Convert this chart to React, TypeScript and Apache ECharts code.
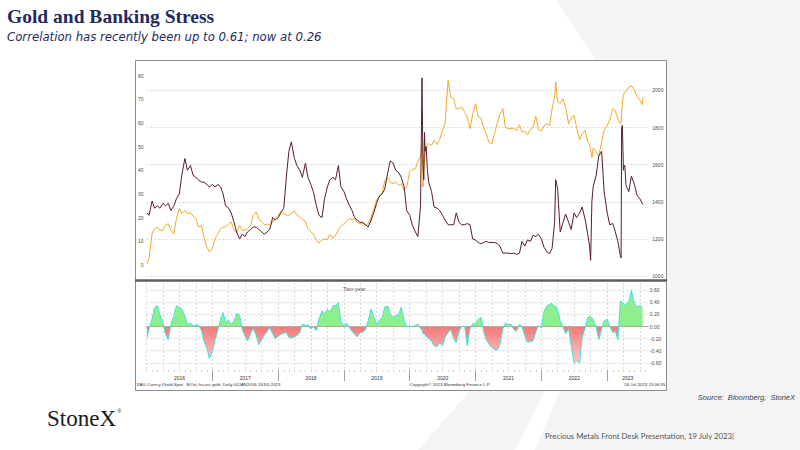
import React, { useEffect, useRef } from "react";
import * as echarts from "echarts";

// ---- dates (semi-monthly, plus extra days around sharp moves) ----
const SM = ["01-01","01-15","02-01","02-15","03-01","03-15","04-01","04-15","05-01","05-15","06-01","06-15","07-01","07-15","08-01","08-15","09-01","09-15","10-01","10-15","11-01","11-15","12-01","12-15"];
const D2016 = ["01-04", ...SM.slice(1)];
const D2020 = ["01-01","01-15","02-01","02-15","03-01","03-05","03-09","03-12","03-15","03-19","03-23","03-26","04-01","04-08","04-15","05-01","05-15","06-01","06-15","07-01","07-15","08-01","08-15","09-01","09-15","10-01","10-15","11-01","11-15","12-01","12-15"];
const D2022 = ["01-01","01-15","02-01","02-15","03-01","03-15","03-21","04-01","04-15","05-01","05-15","06-01","06-15","07-01","07-15","08-01","08-15","09-01","09-15","09-25","10-01","10-08","10-15","11-01","11-15","12-01","12-15"];
const D2023 = ["01-01","01-15","02-01","02-15","03-01","03-15","03-19","03-22","03-26","04-01","04-05","04-09","04-15","05-01","05-15","06-01","06-15","07-01","07-15","07-18"];

const dates = [
  ...D2016.map((d) => "2016-" + d),
  ...SM.map((d) => "2017-" + d),
  ...SM.map((d) => "2018-" + d),
  ...SM.map((d) => "2019-" + d),
  ...D2020.map((d) => "2020-" + d),
  ...SM.map((d) => "2021-" + d),
  ...D2022.map((d) => "2022-" + d),
  ...D2023.map((d) => "2023-" + d),
];

// Gold spot $/oz (right axis)
const goldSpot = [
  1068, 1095, 1230, 1256, 1265, 1247, 1247, 1274, 1283, 1247, 1229, 1310, 1364, 1337, 1355, 1337, 1342, 1324, 1310, 1265, 1274, 1211, 1158, 1131,
  1149, 1202, 1229, 1256, 1265, 1265, 1283, 1292, 1247, 1238, 1274, 1247, 1247, 1256, 1274, 1328, 1346, 1310, 1292, 1278, 1280, 1278, 1290, 1312,
  1328, 1350, 1335, 1330, 1328, 1337, 1352, 1330, 1320, 1305, 1295, 1256, 1240, 1225, 1195, 1178, 1196, 1200, 1198, 1225, 1205, 1222, 1250, 1268,
  1283, 1295, 1310, 1305, 1310, 1290, 1282, 1285, 1274, 1282, 1320, 1360, 1410, 1425, 1450, 1515, 1530, 1505, 1498, 1507, 1489, 1498, 1462, 1480,
  1561, 1575, 1579, 1615, 1650, 1668, 1722, 1615, 1480, 1560, 1633, 1650, 1668, 1713, 1713, 1704, 1731, 1708, 1736, 1785, 1821, 2054, 1964, 1955, 1901, 1901, 1910, 1883, 1857, 1794, 1869,
  1928, 1857, 1848, 1794, 1767, 1722, 1713, 1767, 1821, 1869, 1901, 1800, 1794, 1794, 1797, 1785, 1815, 1776, 1780, 1760, 1790, 1800, 1860, 1790,
  1780, 1810, 1820, 1810, 1900, 1964, 2045, 1937, 1930, 1955, 1910, 1820, 1850, 1866, 1800, 1735, 1767, 1785, 1722, 1710, 1680, 1640, 1690, 1672, 1648, 1720, 1785,
  1812, 1840, 1901, 1890, 1848, 1821, 1826, 1883, 1937, 1973, 1985, 1991, 1995, 2016, 2025, 2000, 1969, 1946, 1923, 1960,
];

// Banking stress measure (left axis)
const bankStress = [
  22, 21, 27, 24, 25, 24, 26, 25, 26, 23, 25, 28, 30, 38, 45, 40, 42, 38, 37, 36, 35, 35, 34, 33,
  34, 33, 34, 33, 30, 25, 24, 22, 18, 14, 11, 13, 12, 14, 15, 16, 16, 15, 14, 13, 14, 15, 20, 19,
  20, 22, 24, 37, 48, 52, 45, 42, 40, 37, 43, 37, 34, 31, 25, 21, 20, 28, 33, 36, 37, 36, 42, 33,
  31, 28, 25, 23, 20, 19, 18, 18, 17, 16, 19, 22, 26, 29, 30, 32, 39, 44, 43, 40, 39, 37, 33, 23,
  21, 17, 14, 12, 25, 52, 79, 58, 42, 36, 56, 48, 50, 40, 35, 31, 24.5, 24, 23, 21, 19, 17, 17, 17, 22, 18, 17, 17, 17.5, 17, 11,
  10.5, 9.5, 9, 9.5, 10, 9.5, 9.5, 9.5, 9, 8, 5, 5, 5, 4.8, 5, 4.5, 5, 10, 8, 10.5, 10, 12.5, 12, 13,
  11, 7.5, 5.5, 4.8, 7, 18, 36, 32, 14, 18, 21.5, 18, 15, 22, 20, 22, 24.5, 19, 13, 8, 2, 27, 33, 38, 46, 48, 31,
  22, 17, 17.5, 14, 10, 4, 3, 58, 59, 40, 42, 42, 33.6, 31, 37.5, 34, 29.5, 28, 25.9, 25.5,
];

// Two-year correlation (lower panel)
const correlation = [
  -0.18, -0.05, 0.13, 0.31, 0.35, 0.2, 0.07, -0.12, -0.22, 0.03, 0.18, 0.34, 0.32, 0.29, 0.18, 0.03, 0.06, 0.01, 0.02, 0.03, -0.07, -0.24, -0.36, -0.53,
  -0.42, -0.23, -0.05, 0.12, 0.23, 0.08, 0.1, 0.04, 0.08, 0.22, 0.18, -0.05, -0.16, -0.24, -0.12, -0.03, -0.15, -0.3, -0.22, -0.15, -0.08, -0.02, -0.12, -0.2,
  -0.16, -0.13, -0.11, -0.1, -0.18, -0.19, -0.17, -0.15, -0.1, 0.04, 0.02, 0.03, -0.04, 0.0, -0.07, 0.12, 0.26, 0.21, 0.28, 0.24, 0.34, 0.35, 0.4, 0.08,
  0.0, 0.06, -0.02, -0.08, -0.13, -0.17, -0.1, -0.1, -0.05, 0.1, 0.29, 0.16, 0.04, 0.1, 0.15, 0.32, 0.34, 0.2, 0.15, 0.18, 0.2, 0.32, 0.1, -0.01,
  0.01, -0.01, 0.02, 0.04, -0.04, -0.02, -0.06, -0.1, -0.12, -0.12, -0.13, -0.14, -0.16, -0.18, -0.2, -0.24, -0.32, -0.33, -0.27, -0.32, -0.18, -0.1, -0.05, -0.2, -0.27, -0.08, 0.0, 0.0, -0.32, -0.03, 0.04,
  0.05, 0.12, 0.15, -0.1, -0.22, -0.29, -0.35, -0.38, -0.39, -0.3, -0.04, 0.06, 0.03, 0.04, -0.05, -0.08, 0.04, 0.0, -0.16, -0.26, -0.25, -0.24, -0.09, 0.01,
  -0.02, 0.25, 0.34, 0.37, 0.38, 0.33, 0.34, 0.26, 0.1, -0.01, -0.12, -0.04, -0.32, -0.6, -0.57, -0.6, -0.18, -0.02, 0.15, 0.17, 0.16, 0.14, 0.11, -0.02, -0.22, -0.04, 0.09,
  0.12, 0.0, -0.1, -0.08, -0.22, 0.42, 0.42, 0.41, 0.4, 0.38, 0.37, 0.37, 0.37, 0.4, 0.6, 0.37, 0.33, 0.34, 0.33, 0.33,
];

// tick labels
const leftTicks = [0, 10, 20, 30, 40, 50, 60, 70, 80];
const rightTicks = [1000, 1200, 1400, 1600, 1800, 2000];
const corrTicks = [-0.6, -0.4, -0.2, 0, 0.2, 0.4, 0.6];
const years = [2016, 2017, 2018, 2019, 2020, 2021, 2022, 2023];

const SANS = "'Liberation Sans', Arial, sans-serif";

function toTime(s: string) {
  const [y, m, d] = s.split("-").map(Number);
  return +new Date(y, m - 1, d);
}

function buildOption() {
  const xMin = +new Date(2016, 0, 1);
  const xMax = +new Date(2023, 7, 17);
  const quarters: number[] = [];
  const months: number[] = [];
  years.forEach((y) => {
    for (let m = 0; m < 12; m++) {
      const t = +new Date(y, m, 1);
      if (t <= xMax) {
        months.push(t);
        if (m % 3 === 0) quarters.push(t);
      }
    }
  });
  const yearStarts = years.slice(1).map((y) => +new Date(y, 0, 1));
  const yearMids = years.map((y) => {
    const a = Math.max(+new Date(y, 0, 1), xMin);
    const b = Math.min(+new Date(y + 1, 0, 1), xMax);
    return (a + b) / 2;
  });

  const times = dates.map(toTime);
  const pairs = (vals: number[]) => times.map((t, i) => [t, vals[i]]);

  const baseX = {
    type: "value",
    min: xMin,
    max: xMax,
    axisLine: { show: false },
    axisTick: { show: false },
    axisLabel: { show: false },
    splitLine: { show: false },
  };
  const dash = { color: "#c9c9c9", width: 0.7, type: [2, 2] };
  const lbl = { fontSize: 5, color: "#4a4a4a", fontFamily: SANS };

  const redGrad = new echarts.graphic.LinearGradient(
    0, 326.5, 0, 366,
    [
      { offset: 0, color: "#f37a7a" },
      { offset: 1, color: "#fcd0d0" },
    ],
    true
  );

  const txt = (x: number, y: number, text: string, font: string, fill: string, align = "left") => ({
    type: "text",
    x,
    y,
    z: 20,
    silent: true,
    style: { text, font, fill, align, verticalAlign: "middle" },
  });

  return {
    animation: false,
    backgroundColor: "#ffffff",
    grid: [
      { left: 146.5, right: 151.7, top: 63, height: 217, outerBoundsMode: "none" },
      { left: 146.5, right: 151.7, top: 283, height: 87, outerBoundsMode: "none" },
      { left: 146.5, right: 151.7, top: 283, height: 43.5, outerBoundsMode: "none" },
      { left: 146.5, right: 151.7, top: 326.5, height: 43.5, outerBoundsMode: "none" },
    ],
    xAxis: [
      { ...baseX, gridIndex: 0 },
      {
        ...baseX,
        gridIndex: 1,
        position: "bottom",
        axisLine: { show: true, lineStyle: { color: "#9a9a9a", width: 0.8 } },
        axisTick: { show: false, customValues: quarters },
        splitLine: { show: true, lineStyle: dash },
      },
      {
        ...baseX,
        gridIndex: 1,
        position: "bottom",
        axisTick: { show: true, customValues: yearStarts, length: 11, lineStyle: { color: "#8a8a8a", width: 0.8 } },
        axisLabel: {
          show: true,
          customValues: yearMids,
          formatter: (v: number) => String(new Date(v).getFullYear()),
          margin: 5,
          ...lbl,
          color: "#333",
        },
      },
      {
        ...baseX,
        gridIndex: 1,
        position: "bottom",
        axisTick: { show: true, customValues: months, length: 2, lineStyle: { color: "#9a9a9a", width: 0.5 } },
      },
      { ...baseX, gridIndex: 2 },
      { ...baseX, gridIndex: 3 },
    ],
    yAxis: [
      {
        type: "value",
        gridIndex: 0,
        position: "left",
        min: -6.34,
        max: 85.3,
        axisLine: { show: false },
        axisTick: { show: false, customValues: leftTicks },
        splitLine: { show: false },
        axisLabel: { customValues: leftTicks, margin: 3, formatter: (v: number) => String(v), ...lbl },
      },
      {
        type: "value",
        gridIndex: 0,
        position: "right",
        min: 980,
        max: 2147,
        axisLine: { show: false },
        axisTick: { show: false, customValues: rightTicks },
        splitLine: { show: true, lineStyle: dash },
        axisLabel: { customValues: rightTicks, margin: 4, formatter: (v: number) => String(v), ...lbl },
      },
      {
        type: "value",
        gridIndex: 1,
        position: "right",
        min: -0.72,
        max: 0.72,
        axisLine: { show: false },
        axisTick: { show: false, customValues: corrTicks },
        splitLine: { show: true, lineStyle: dash },
        axisLabel: {
          customValues: corrTicks,
          margin: 1.5,
          formatter: (v: number) => (Math.abs(v) < 1e-9 ? "0.00" : v.toFixed(2)),
          ...lbl,
        },
      },
      { type: "value", gridIndex: 2, min: 0, max: 0.72, show: false },
      { type: "value", gridIndex: 3, min: -0.72, max: 0, show: false },
    ],
    series: [
      {
        type: "line",
        name: "Gold",
        xAxisIndex: 0,
        yAxisIndex: 1,
        data: pairs(goldSpot),
        symbol: "none",
        showSymbol: false,
        silent: true,
        lineStyle: { color: "#f4a828", width: 1 },
        z: 2,
      },
      {
        type: "line",
        name: "Banking stress",
        xAxisIndex: 0,
        yAxisIndex: 0,
        data: pairs(bankStress),
        symbol: "none",
        showSymbol: false,
        silent: true,
        lineStyle: { color: "#561d27", width: 1 },
        z: 3,
      },
      {
        type: "line",
        name: "Corr +",
        xAxisIndex: 4,
        yAxisIndex: 3,
        data: pairs(correlation),
        symbol: "none",
        showSymbol: false,
        silent: true,
        clip: true,
        lineStyle: { width: 0, opacity: 0 },
        areaStyle: { color: "#8eef8e", opacity: 1, origin: "start" },
        z: 2,
      },
      {
        type: "line",
        name: "Corr -",
        xAxisIndex: 5,
        yAxisIndex: 4,
        data: pairs(correlation),
        symbol: "none",
        showSymbol: false,
        silent: true,
        clip: true,
        lineStyle: { width: 0, opacity: 0 },
        areaStyle: { color: redGrad, opacity: 1, origin: "end" },
        z: 2,
      },
      {
        type: "line",
        name: "Two-year correlation",
        xAxisIndex: 1,
        yAxisIndex: 2,
        data: pairs(correlation),
        symbol: "none",
        showSymbol: false,
        silent: true,
        lineStyle: { color: "#3fe3dd", width: 1 },
        z: 4,
      },
    ],
    graphic: [
      // faint watermark
      { type: "polygon", z: -20, silent: true, shape: { points: [[556, 0], [800, 0], [800, 60], [596, 60]] }, style: { fill: "#f3f4f6" } },
      { type: "polygon", z: -20, silent: true, shape: { points: [[667, 60], [800, 60], [800, 391], [667, 391]] }, style: { fill: "#f3f4f6" } },
      { type: "polygon", z: -20, silent: true, shape: { points: [[418, 450], [515, 450], [545, 391], [470, 391]] }, style: { fill: "#f3f4f6" } },
      { type: "polygon", z: -20, silent: true, shape: { points: [[535, 450], [800, 450], [800, 391], [560, 391]] }, style: { fill: "#f3f4f6" } },
      // chart frame
      {
        type: "rect",
        z: -10,
        silent: true,
        shape: { x: 135.5, y: 60.5, width: 531, height: 330 },
        style: { fill: "#ffffff", stroke: "#8c8c8c", lineWidth: 1 },
      },
      // panel separator
      {
        type: "rect",
        z: 20,
        silent: true,
        shape: { x: 135, y: 279.3, width: 532, height: 2.4 },
        style: { fill: "#5c5c5c" },
      },
      txt(7, 16.8, "Gold and Banking Stress", "bold 19.5px 'Liberation Serif', serif", "#1f2b5e"),
      txt(7, 36.3, "Correlation has recently been up to 0.61; now at 0.26", "italic 13px 'Liberation Sans Narrow', 'DejaVu Sans Condensed', Lato, sans-serif", "#1f2b5e"),
      txt(343, 288.5, "Two-year", "5.5px " + SANS, "#555555"),
      txt(136.5, 384.6, "XAU Curncy (Gold Spot   $/Oz) fra-ois gold  Daily 04JAN2016-18JUL2023", "4.4px " + SANS, "#333333"),
      txt(450, 384.6, "Copyright\u00a9 2023 Bloomberg Finance L.P.", "4.4px " + SANS, "#333333", "center"),
      txt(665.5, 384.6, "18-Jul-2023 13:06:35", "4.4px " + SANS, "#333333", "right"),
      txt(795, 397, "Source:  Bloomberg,  StoneX", "italic 7.5px " + SANS, "#404040", "right"),
      txt(47, 418, "StoneX", "23px 'Liberation Serif', serif", "#1a1a1a"),
      txt(117.5, 411, "\u00ae", "5px " + SANS, "#1a1a1a"),
      txt(545, 436, "Precious Metals Front Desk Presentation, 19 July 2023|", "7.8px Lato, " + SANS, "#555555"),
    ],
  };
}

export default function App() {
  const ref = useRef<HTMLDivElement>(null);
  useEffect(() => {
    if (!ref.current) return;
    const chart = echarts.init(ref.current, null, { renderer: "svg" });
    chart.setOption(buildOption() as any);
    return () => chart.dispose();
  }, []);
  return (
    <div
      ref={ref}
      style={{ position: "fixed", left: 0, top: 0, width: 800, height: 450, background: "#ffffff" }}
    />
  );
}
